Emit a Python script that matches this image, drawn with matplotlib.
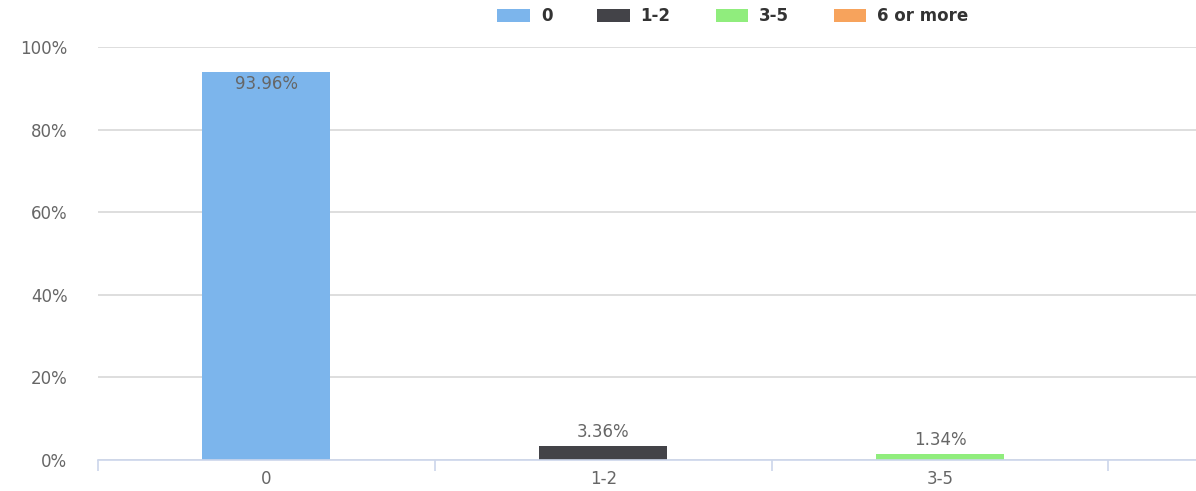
import matplotlib
matplotlib.use("Agg")
import matplotlib.pyplot as plt
from matplotlib.patches import Patch
from matplotlib.ticker import FixedLocator

plt.rcParams['font.family'] = ['DejaVu Sans']

categories = ["0", "1-2", "3-5"]
values = [93.96, 3.36, 1.34]
legend_labels = ["0", "1-2", "3-5", "6 or more"]
colors = ["#7cb5ec", "#434348", "#90ed7d", "#f7a35c"]
yticks = [0, 20, 40, 60, 80, 100]

W, H = 1196, 491
fig = plt.figure(figsize=(W / 100, H / 100), dpi=100)
ax = fig.add_axes([98 / W, 31 / H, 1 - 98 / W, 413 / H])

x = list(range(len(categories)))
bars = ax.bar(x, values, width=0.38, color=colors[:len(categories)], zorder=3)

FS = 12
for i, (xi, v) in enumerate(zip(x, values)):
    label = f"{v:.2f}%"
    if v > 90:
        ax.annotate(label, (xi, v), xytext=(0, -2), textcoords="offset points",
                    ha="center", va="top", fontsize=FS, color="#666666", zorder=4)
    else:
        ax.annotate(label, (xi, v), xytext=(0, 4), textcoords="offset points",
                    ha="center", va="bottom", fontsize=FS, color="#666666", zorder=4)

ax.set_xlim(-0.5, 2.76)
ax.set_ylim(0, 100)
ax.set_yticks(yticks)
ax.set_yticklabels([f"{t}%" for t in yticks])
ax.set_xticks(x)
ax.set_xticklabels(categories)
ax.xaxis.set_minor_locator(FixedLocator([-0.5, 0.5, 1.5, 2.5]))

ax.grid(axis="y", color="#d8d8d8", linewidth=1.2, zorder=0)
for s in ["top", "right", "left"]:
    ax.spines[s].set_visible(False)
ax.spines["bottom"].set_color("#ccd6eb")
ax.spines["bottom"].set_linewidth(1.2)
ax.spines["bottom"].set_zorder(5)

ax.tick_params(axis="y", length=0, pad=22, labelsize=FS, labelcolor="#666666")
ax.tick_params(axis="x", which="major", length=0, pad=7, labelsize=FS, labelcolor="#666666")
ax.tick_params(axis="x", which="minor", length=8, width=1.2, color="#ccd6eb")

handles = [Patch(facecolor=c, edgecolor="none") for c in colors]
fig.legend(handles, legend_labels, ncol=4, loc="center", bbox_to_anchor=(733 / W, 1 - 16 / H),
           frameon=False, handlelength=1.95, handleheight=0.85, handletextpad=0.65,
           columnspacing=2.7, prop={"weight": "bold", "size": FS}, labelcolor="#333333")

fig.savefig("out.png", dpi=100)
